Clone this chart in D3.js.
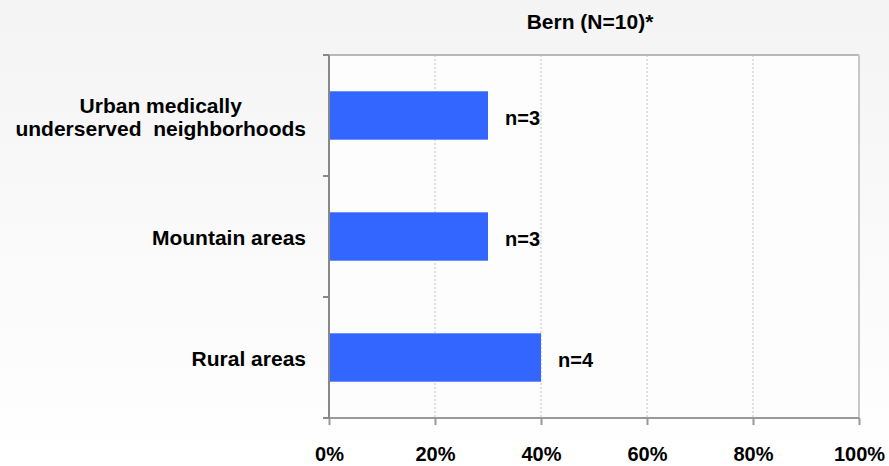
<!DOCTYPE html>
<html>
<head>
<meta charset="utf-8">
<script src="https://cdn.jsdelivr.net/npm/d3@7"></script>
<style>
  html, body { margin: 0; padding: 0; background: #fff; }
  svg { display: block; }
  text { font-family: "Liberation Sans", Arial, sans-serif; font-weight: bold; fill: #000; }
</style>
</head>
<body>
<div id="chart"></div>
<script>
const title = "Bern (N=10)*";
const categories = [
  ["Urban medically", "underserved  neighborhoods"],
  ["Mountain areas"],
  ["Rural areas"]
];
const values = [0.30, 0.30, 0.40];
const counts = ["n=3", "n=3", "n=4"];
const xTicks = [0, 0.2, 0.4, 0.6, 0.8, 1.0];
const xTickLabels = ["0%", "20%", "40%", "60%", "80%", "100%"];

const W = 889, H = 466;
const margin = { top: 55, right: 30, bottom: 48, left: 329 };
const iw = W - margin.left - margin.right;
const ih = H - margin.top - margin.bottom;

const svg = d3.select("#chart").append("svg").attr("width", W).attr("height", H);

const defs = svg.append("defs");
const grad = defs.append("linearGradient").attr("id", "bg").attr("x1", 0).attr("y1", 0).attr("x2", 0).attr("y2", 1);
grad.append("stop").attr("offset", "0%").attr("stop-color", "#f4f4f4");
grad.append("stop").attr("offset", "100%").attr("stop-color", "#ffffff");
svg.append("rect").attr("width", W).attr("height", H).attr("fill", "url(#bg)");

const keys = categories.map((d, i) => i);
const y = d3.scaleBand().domain(keys).range([0, ih]).paddingInner(0).paddingOuter(0);
const x = d3.scaleLinear().domain([0, 1]).range([0, iw]);

const g = svg.append("g").attr("transform", `translate(${margin.left},${margin.top})`);

// plot background
g.append("rect").attr("width", iw).attr("height", ih).attr("fill", "#fdfdfd");

// gridlines
g.selectAll("line.grid").data(xTicks.filter(t => t > 0 && t < 1)).enter().append("line")
  .attr("class", "grid")
  .attr("x1", d => x(d)).attr("x2", d => x(d))
  .attr("y1", 0).attr("y2", ih)
  .attr("stroke", "#c4c4c4").attr("stroke-width", 1).attr("stroke-dasharray", "2,2");

// top & right border
g.append("line").attr("x1", -6).attr("x2", iw).attr("y1", 0).attr("y2", 0)
  .attr("stroke", "#b8b8b8").attr("stroke-width", 2);
g.append("line").attr("x1", x(1)).attr("x2", x(1)).attr("y1", 0).attr("y2", ih)
  .attr("stroke", "#c8c8c8").attr("stroke-width", 2);

// bars
const bh = y.step() * 0.4;
g.selectAll("rect.bar").data(values).enter().append("rect")
  .attr("class", "bar")
  .attr("x", 0)
  .attr("y", (d, i) => y(i) + (y.step() - bh) / 2)
  .attr("width", d => x(d))
  .attr("height", bh)
  .attr("fill", "#3366ff");

// count labels
g.selectAll("text.cnt").data(values).enter().append("text")
  .attr("class", "cnt")
  .attr("x", d => x(d) + 17)
  .attr("y", (d, i) => y(i) + y.step() / 2 + 2)
  .attr("dominant-baseline", "central")
  .attr("font-size", 20)
  .text((d, i) => counts[i]);

// x axis
const xAxis = d3.axisBottom(x).tickValues(xTicks).tickFormat((d, i) => xTickLabels[i]).tickSize(7).tickPadding(22);
const xg = g.append("g").attr("transform", `translate(0,${ih})`).call(xAxis);
xg.select(".domain").attr("stroke", "#999").attr("stroke-width", 2).attr("d", `M-6,0H${iw}`);
xg.selectAll(".tick line").attr("stroke", "#999").attr("stroke-width", 2);
xg.selectAll(".tick text").attr("font-size", 20).attr("font-family", "Liberation Sans, Arial, sans-serif").attr("font-weight", "bold").attr("fill", "#000");

// y axis: boundary ticks
const bounds = keys.map(k => y(k)).concat([ih]);
g.append("line").attr("x1", 0).attr("x2", 0).attr("y1", 0).attr("y2", ih)
  .attr("stroke", "#888").attr("stroke-width", 2);
g.selectAll("line.ytick").data(bounds).enter().append("line")
  .attr("class", "ytick")
  .attr("x1", -6).attr("x2", 0).attr("y1", d => d).attr("y2", d => d)
  .attr("stroke", "#888").attr("stroke-width", 2);

// category labels (centered block, right edge at fixed offset)
const labelRight = -23;
const lineH = 23;
categories.forEach((lines, i) => {
  const cy = y(i) + y.step() / 2 + 1;
  const t = g.append("text").attr("font-size", 21).attr("text-anchor", "middle");
  const spans = lines.map((ln, j) => t.append("tspan")
    .attr("y", cy + (j - (lines.length - 1) / 2) * lineH)
    .attr("dominant-baseline", "central")
    .attr("xml:space", "preserve")
    .style("white-space", "pre")
    .text(ln));
  let maxW = 0;
  spans.forEach(s => { maxW = Math.max(maxW, s.node().getComputedTextLength()); });
  spans.forEach(s => s.attr("x", labelRight - maxW / 2));
});

// title
svg.append("text")
  .attr("x", margin.left + iw / 2 - 4)
  .attr("y", 21)
  .attr("text-anchor", "middle")
  .attr("dominant-baseline", "central")
  .attr("font-size", 21)
  .text(title);
</script>
</body>
</html>
